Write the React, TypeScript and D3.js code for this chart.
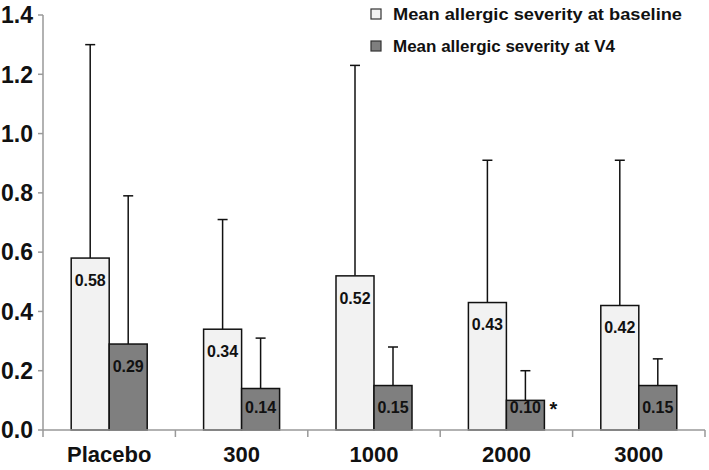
import React from 'react';
import * as d3 from 'd3';

const categories = ['Placebo', '300', '1000', '2000', '3000'];
const baseline = [0.58, 0.34, 0.52, 0.43, 0.42];
const baselineErr = [1.30, 0.71, 1.23, 0.91, 0.91];
const visit4 = [0.29, 0.14, 0.15, 0.10, 0.15];
const visit4Err = [0.79, 0.31, 0.28, 0.20, 0.24];
const significant = [false, false, false, true, false];
const yTicks = [0, 0.2, 0.4, 0.6, 0.8, 1.0, 1.2, 1.4];
const seriesNames = ['Mean allergic severity at baseline', 'Mean allergic severity at V4'];
const seriesColours = ['#f2f2f2', '#7f7f7f'];

const W = 709;
const H = 470;
const margin = { top: 15, right: 4, bottom: 40, left: 43 };

export default function App() {
  const x = d3.scaleBand<string>()
    .domain(categories)
    .range([margin.left, W - margin.right]);
  const y = d3.scaleLinear()
    .domain([0, 1.4])
    .range([H - margin.bottom, margin.top]);
  const barW = 38;
  const y0 = y(0);

  const series = [
    { values: baseline, err: baselineErr, colour: seriesColours[0], offset: -barW },
    { values: visit4, err: visit4Err, colour: seriesColours[1], offset: 0 },
  ];

  const tickFont = '"Liberation Sans", Arial, sans-serif';
  const legendLengths = [289, 222];

  return (
    <svg width={W} height={H} style={{ position: 'absolute', left: 0, top: 0, background: '#fff' }}>
      {/* y axis */}
      <line x1={margin.left} x2={margin.left} y1={y(1.4)} y2={y0} stroke="#999" strokeWidth={1.5} />
      {yTicks.map(t => (
        <g key={t}>
          <line x1={margin.left - 5} x2={margin.left} y1={y(t)} y2={y(t)} stroke="#999" strokeWidth={1.5} />
          <text x={33} y={y(t)} dy="0.36em" textAnchor="end" fontFamily={tickFont} fontWeight="bold" fontSize={23} fill="#111">
            {t.toFixed(1)}
          </text>
        </g>
      ))}

      {/* bars */}
      {series.map((s, si) => categories.map((c, i) => {
        const cx = (x(c) as number) + x.bandwidth() / 2 + s.offset;
        const top = y(s.values[i]);
        const mid = cx + barW / 2;
        const labelY = Math.min(top + 22, 407);
        return (
          <g key={si + c}>
            <line x1={mid} x2={mid} y1={top} y2={y(s.err[i])} stroke="#111" strokeWidth={1.5} />
            <line x1={mid - 5} x2={mid + 5} y1={y(s.err[i])} y2={y(s.err[i])} stroke="#111" strokeWidth={1.5} />
            <rect x={cx} y={top} width={barW} height={y0 - top} fill={s.colour} stroke="#111" strokeWidth={1.5} />
            <text x={mid} y={labelY} dy="0.36em" textAnchor="middle" fontFamily={tickFont} fontWeight="bold" fontSize={16} fill="#111">
              {s.values[i].toFixed(2)}
            </text>
            {si === 1 && significant[i] && (
              <text x={cx + barW + 9} y={409} dy="0.36em" textAnchor="middle" fontFamily={tickFont} fontWeight="bold" fontSize={20} fill="#111">*</text>
            )}
          </g>
        );
      }))}

      {/* x axis */}
      <line x1={margin.left} x2={W - margin.right} y1={y0} y2={y0} stroke="#999" strokeWidth={1.5} />
      {categories.map(c => (
        <line key={'t' + c} x1={x(c) as number} x2={x(c) as number} y1={y0} y2={y0 + 7} stroke="#999" strokeWidth={1.5} />
      ))}
      <line x1={W - margin.right} x2={W - margin.right} y1={y0} y2={y0 + 7} stroke="#999" strokeWidth={1.5} />
      {categories.map(c => (
        <text key={'l' + c} x={(x(c) as number) + x.bandwidth() / 2} y={462} textAnchor="middle" fontFamily={tickFont} fontWeight="bold" fontSize={22} fill="#111">
          {c}
        </text>
      ))}

      {/* legend */}
      {seriesNames.map((n, i) => (
        <g key={n} transform={`translate(371, ${14 + i * 32})`}>
          <rect x={0} y={-5} width={10} height={10} fill={seriesColours[i]} stroke="#333" strokeWidth={1.2} />
          <text x={22} y={0} dy="0.36em" fontFamily={tickFont} fontWeight="bold" fontSize={17} fill="#111"
            textLength={legendLengths[i]} lengthAdjust="spacingAndGlyphs">{n}</text>
        </g>
      ))}
    </svg>
  );
}
